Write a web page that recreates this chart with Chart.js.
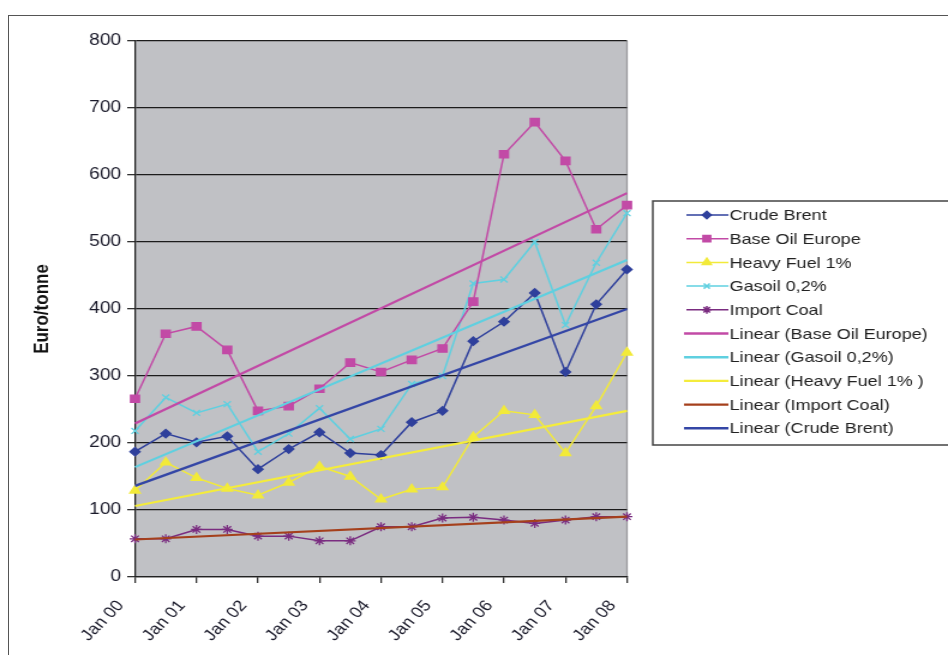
<!DOCTYPE html>
<html lang="en">

<head>
    <meta charset="UTF-8">
    <script src="https://cdn.jsdelivr.net/npm/chart.js"></script>
    <title>Euro/tonne</title>
    <style>
        body { margin: 0; background: #fff; }
        #frame { position: absolute; left: 8px; top: 15px; width: 940px; height: 640px;
                 border-left: 1.5px solid #555; border-top: 1.5px solid #555; }
        #box { position: absolute; left: 0; top: 0; width: 948px; height: 655px; }
        /* the reference picture is stretched sideways, so the canvas is too */
        #grafico { width: 948px !important; height: 655px !important; display: block; }
    </style>
</head>

<body>
    <div id="frame"></div>
    <div id="box"><canvas id="grafico" width="790" height="655"></canvas></div>
</body>

</html>
<script>
    // half-year points, Jan 00 .. Jan 08
    const meses = ['Jan 00', 'Jul 00', 'Jan 01', 'Jul 01', 'Jan 02', 'Jul 02', 'Jan 03', 'Jul 03',
        'Jan 04', 'Jul 04', 'Jan 05', 'Jul 05', 'Jan 06', 'Jul 06', 'Jan 07', 'Jul 07', 'Jan 08'];

    const crudeBrent = [187, 214, 201, 210, 161, 191, 216, 185, 182, 231, 248, 352, 381, 424, 306, 407, 459];
    const baseOil = [266, 363, 374, 339, 248, 255, 281, 320, 306, 324, 341, 411, 631, 679, 621, 519, 555];
    const heavyFuel = [129, 171, 148, 132, 122, 141, 165, 150, 116, 131, 134, 209, 248, 242, 185, 255, 335];
    const gasoil = [218, 268, 245, 258, 187, 214, 252, 206, 221, 288, 300, 438, 444, 500, 376, 469, 543];
    const importCoal = [57, 57, 71, 71, 61, 61, 54, 54, 75, 75, 88, 89, 85, 80, 85, 90, 90];

    // trend lines: value at Jan 00 and at Jan 08
    const trendBaseOil = [229, 573];
    const trendGasoil = [164, 473];
    const trendHeavyFuel = [106, 248];
    const trendCoal = [56, 90];
    const trendBrent = [136, 400];

    const fonte = '"Liberation Sans", Arial, sans-serif';

    function linhaTendencia(ends) {
        const arr = meses.map(() => null);
        arr[0] = ends[0];
        arr[arr.length - 1] = ends[1];
        return arr;
    }

    function serie(label, data, cor, estilo, raio) {
        return {
            label: label, data: data, borderColor: cor, backgroundColor: cor,
            borderWidth: 1.5, pointStyle: estilo, pointRadius: raio, pointBorderWidth: 1.3,
            pointBackgroundColor: cor, pointBorderColor: cor, tension: 0, order: 2
        };
    }

    function tendencia(label, data, cor) {
        return {
            label: label, data: linhaTendencia(data), borderColor: cor, backgroundColor: cor,
            borderWidth: 2.2, pointRadius: 0, spanGaps: true, tension: 0, order: 1
        };
    }

    const fundoPlot = {
        id: 'fundoPlot',
        beforeDraw(chart) {
            const a = chart.chartArea, ctx = chart.ctx;
            ctx.save();
            ctx.fillStyle = '#c0c1c5';
            ctx.fillRect(a.left, a.top, a.right - a.left, a.bottom - a.top);
            ctx.strokeStyle = '#9a9a9e';
            ctx.lineWidth = 1.3;
            ctx.beginPath();
            ctx.moveTo(a.right, a.top);
            ctx.lineTo(a.right, a.bottom);
            ctx.stroke();
            ctx.restore();
        }
    };

    const legenda = {
        id: 'legenda',
        afterDraw(chart) {
            const ctx = chart.ctx;
            const x0 = 544, y0 = 201, w = 260, h = 244;
            ctx.save();
            ctx.fillStyle = '#fff';
            ctx.fillRect(x0, y0, w, h);
            ctx.strokeStyle = '#444';
            ctx.lineWidth = 1.5;
            ctx.strokeRect(x0, y0, w, h);
            ctx.font = '15px ' + fonte;
            ctx.textBaseline = 'middle';
            chart.data.datasets.forEach((ds, i) => {
                const y = 215 + i * 23.7;
                ctx.strokeStyle = ds.borderColor;
                ctx.lineWidth = ds.pointRadius ? 1.5 : 2.4;
                ctx.beginPath();
                ctx.moveTo(ds.pointRadius ? 572 : 570, y);
                ctx.lineTo(607, y);
                ctx.stroke();
                if (ds.pointRadius) {
                    ctx.fillStyle = ds.borderColor;
                    Chart.helpers.drawPoint(ctx, {
                        pointStyle: ds.pointStyle, radius: ds.pointRadius * 0.85, rotation: 0, borderWidth: 1.3
                    }, 589, y);
                }
                ctx.fillStyle = '#222';
                ctx.fillText(ds.label, 608, y + 1);
            });
            ctx.restore();
        }
    };

    window.onload = function () {
        const ctx = document.getElementById('grafico').getContext('2d');
        new Chart(ctx, {
            type: 'line',
            data: {
                labels: meses,
                datasets: [
                    serie('Crude Brent', crudeBrent, '#2f409c', 'rectRot', 4.2),
                    serie('Base Oil Europe', baseOil, '#c24aa6', 'rect', 5.2),
                    serie('Heavy Fuel 1%', heavyFuel, '#f2ea3a', 'triangle', 5),
                    serie('Gasoil 0,2%', gasoil, '#5fd0e0', 'crossRot', 4.2),
                    serie('Import Coal', importCoal, '#7a2c80', 'star', 4.5),
                    tendencia('Linear (Base Oil Europe)', trendBaseOil, '#c24aa6'),
                    tendencia('Linear (Gasoil 0,2%)', trendGasoil, '#5fd0e0'),
                    tendencia('Linear (Heavy Fuel 1% )', trendHeavyFuel, '#f4ec3c'),
                    tendencia('Linear (Import Coal)', trendCoal, '#a5401c'),
                    tendencia('Linear (Crude Brent)', trendBrent, '#3446a6')
                ]
            },
            options: {
                responsive: false,
                animation: false,
                devicePixelRatio: 1,
                layout: { padding: { left: 24, top: 41, right: 267.5, bottom: 0 } },
                plugins: {
                    legend: { display: false },
                    tooltip: { enabled: false }
                },
                scales: {
                    x: {
                        offset: false,
                        afterFit: s => { s.height = 78; },
                        grid: {
                            drawOnChartArea: false,
                            tickLength: 6,
                            lineWidth: 1.3,
                            tickColor: c => (c.index % 2 === 0 ? '#333' : 'rgba(0,0,0,0)')
                        },
                        border: { color: '#222', width: 1.3 },
                        ticks: {
                            autoSkip: false,
                            maxRotation: 50,
                            minRotation: 50,
                            padding: 14,
                            labelOffset: -12,
                            color: '#1a1a2a',
                            font: { family: fonte, size: 15.5 },
                            callback: function (v, i) { return i % 2 === 0 ? this.getLabelForValue(v) : ''; }
                        }
                    },
                    y: {
                        min: 0,
                        max: 800,
                        afterFit: s => { s.width = 88.5; },
                        grid: { color: '#1c1c1c', lineWidth: 1.3, tickLength: 6.5, tickColor: '#333' },
                        border: { color: '#222', width: 1.3 },
                        ticks: {
                            stepSize: 100,
                            padding: 5,
                            color: '#1a1a2a',
                            font: { family: fonte, size: 16 }
                        },
                        title: {
                            display: true,
                            text: 'Euro/tonne',
                            color: '#111',
                            padding: 1,
                            font: { family: fonte, size: 17, weight: 'bold' }
                        }
                    }
                }
            },
            plugins: [fundoPlot, legenda]
        });
    };
</script>
